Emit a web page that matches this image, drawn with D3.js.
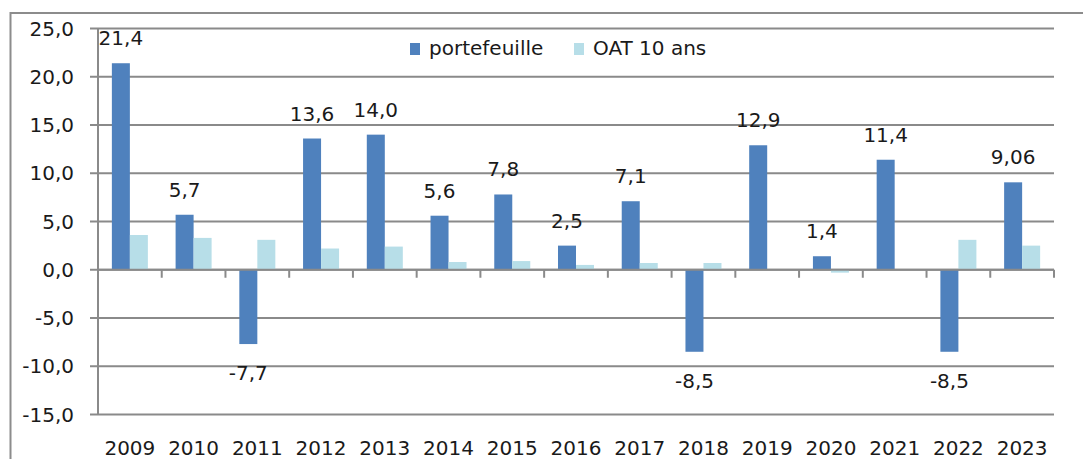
<html>
<head>
  <script src="https://d3js.org/d3.v7.min.js"></script>
  <meta charset="utf-8">
  <title>portefeuille vs OAT 10 ans</title>
<style>
body { margin: 0; background: #fff; }
svg { background: #fff; }
text { font-family: "DejaVu Sans", sans-serif; fill: #1a1a1a; }
</style>
</head>
<body>
<script>
var width = 1083,
    height = 459;

// data
var years = ['2009','2010','2011','2012','2013','2014','2015','2016','2017','2018','2019','2020','2021','2022','2023'];
var portefeuille = [21.4, 5.7, -7.7, 13.6, 14.0, 5.6, 7.8, 2.5, 7.1, -8.5, 12.9, 1.4, 11.4, -8.5, 9.06];
var portefeuilleLabels = ['21,4','5,7','-7,7','13,6','14,0','5,6','7,8','2,5','7,1','-8,5','12,9','1,4','11,4','-8,5','9,06'];
var oat10 = [3.6, 3.3, 3.1, 2.2, 2.4, 0.8, 0.9, 0.5, 0.7, 0.7, 0.0, -0.3, 0.0, 3.1, 2.5];
var yTicks = [-15, -10, -5, 0, 5, 10, 15, 20, 25];
var seriesNames = ['portefeuille', 'OAT 10 ans'];
var colors = ['#4f81bd', '#b7dee8'];

var grid = '#8a8a8a';

var svg = d3.select('body').append('svg')
  .attr('width', width)
  .attr('height', height);

// outer frame (only top and left edges show)
svg.append('rect')
  .attr('x', 10.5).attr('y', 13)
  .attr('width', 1100).attr('height', 470)
  .attr('fill', 'none')
  .attr('stroke', '#8c8c8c')
  .attr('stroke-width', 2);

var x = d3.scaleBand()
  .domain(years)
  .range([98, 1054]);

var x1 = d3.scaleBand()
  .domain(seriesNames)
  .range([0, x.bandwidth()])
  .paddingOuter(0.77);

var y = d3.scaleLinear()
  .domain([-15, 25])
  .range([414.5, 28.5]);

// gridlines
svg.selectAll('line.grid')
  .data(yTicks)
  .enter()
  .append('line')
  .attr('class', 'grid')
  .attr('x1', 90).attr('x2', 1054)
  .attr('y1', function (d) { return y(d); })
  .attr('y2', function (d) { return y(d); })
  .attr('stroke', grid)
  .attr('stroke-width', 2);

// y axis line
svg.append('line')
  .attr('x1', 98).attr('x2', 98)
  .attr('y1', y(25)).attr('y2', y(-15))
  .attr('stroke', grid).attr('stroke-width', 2);

// y labels
svg.selectAll('text.ylab')
  .data(yTicks)
  .enter()
  .append('text')
  .attr('class', 'ylab')
  .attr('x', 74)
  .attr('y', function (d) { return y(d) + 7; })
  .attr('text-anchor', 'end')
  .style('font-size', '20px')
  .text(function (d) { return d3.format('.1f')(d).replace('.', ',').replace('−', '-'); });

// bars
var rows = years.map(function (yr, i) {
  return { year: yr, values: [portefeuille[i], oat10[i]], label: portefeuilleLabels[i] };
});

var groups = svg.selectAll('g.year')
  .data(rows)
  .enter()
  .append('g')
  .attr('class', 'year')
  .attr('transform', function (d) { return 'translate(' + x(d.year) + ',0)'; });

groups.selectAll('rect')
  .data(function (d) { return d.values.map(function (v, k) { return { k: k, v: v }; }); })
  .enter()
  .append('rect')
  .attr('x', function (d) { return x1(seriesNames[d.k]); })
  .attr('width', x1.bandwidth())
  .attr('y', function (d) { return y(Math.max(0, d.v)); })
  .attr('height', function (d) { return Math.abs(y(d.v) - y(0)); })
  .attr('fill', function (d) { return colors[d.k]; });

// zero line and x ticks
svg.append('line')
  .attr('x1', 98).attr('x2', 1054)
  .attr('y1', y(0)).attr('y2', y(0))
  .attr('stroke', grid).attr('stroke-width', 2);

svg.selectAll('line.xtick')
  .data(years.concat(['end']))
  .enter()
  .append('line')
  .attr('class', 'xtick')
  .attr('x1', function (d, i) { return 98 + i * x.step(); })
  .attr('x2', function (d, i) { return 98 + i * x.step(); })
  .attr('y1', y(0))
  .attr('y2', y(0) + 8)
  .attr('stroke', grid).attr('stroke-width', 2);

// data labels
groups.append('text')
  .attr('x', x1('portefeuille') + x1.bandwidth() / 2)
  .attr('y', function (d) {
    var v = d.values[0];
    return v >= 0 ? y(v) - 18 : y(v) + 36;
  })
  .attr('text-anchor', 'middle')
  .style('font-size', '20px')
  .text(function (d) { return d.label; });

// x labels
svg.selectAll('text.xlab')
  .data(years)
  .enter()
  .append('text')
  .attr('class', 'xlab')
  .attr('x', function (d) { return x(d) + x.bandwidth() / 2; })
  .attr('y', 455)
  .attr('text-anchor', 'middle')
  .style('font-size', '20px')
  .text(function (d) { return d; });

// legend
var legendX = [410, 574];
var legend = svg.selectAll('g.legend')
  .data(seriesNames)
  .enter()
  .append('g')
  .attr('class', 'legend')
  .attr('transform', function (d, i) { return 'translate(' + legendX[i] + ',0)'; });

legend.append('rect')
  .attr('x', 0).attr('y', 43)
  .attr('width', 10).attr('height', 12)
  .attr('fill', function (d, i) { return colors[i]; });

legend.append('text')
  .attr('x', 19).attr('y', 55)
  .style('font-size', '20px')
  .text(function (d) { return d; });
</script>
</body>
</html>
